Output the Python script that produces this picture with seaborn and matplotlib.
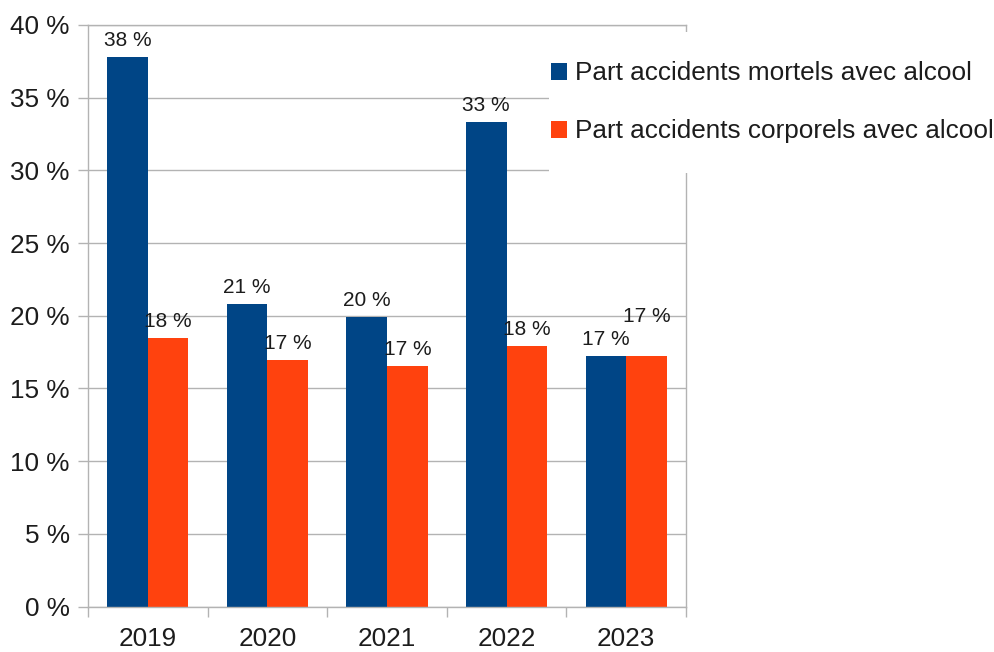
import matplotlib
matplotlib.use("Agg")
import matplotlib.pyplot as plt
from matplotlib.patches import Patch, Rectangle
from matplotlib.ticker import FixedLocator, FuncFormatter
import pandas as pd
import seaborn as sns

# data (percent)
annees = ["2019", "2020", "2021", "2022", "2023"]
mortels = [37.8, 20.8, 19.9, 33.35, 17.2]
corporels = [18.45, 16.93, 16.52, 17.9, 17.2]
series = ["Part accidents mortels avec alcool", "Part accidents corporels avec alcool"]
couleurs = ["#004586", "#ff420e"]

df = pd.DataFrame({
    "annee": annees * 2,
    "part": mortels + corporels,
    "serie": [series[0]] * len(annees) + [series[1]] * len(annees),
})

sns.set_theme(style="white")
plt.rcParams["font.family"] = ["Liberation Sans", "DejaVu Sans"]
txt = "#1c1c1c"
gris = "#b3b3b3"

fig = plt.figure(figsize=(9.95, 6.52), dpi=100)
ax = fig.add_axes([88 / 995, 1 - 606.5 / 652, (686 - 88) / 995, (606.5 - 25) / 652])

sns.barplot(data=df, x="annee", y="part", hue="serie", palette=couleurs,
            width=0.68, saturation=1, linewidth=0, legend=False, ax=ax)

ax.set_ylim(0, 40)
ax.set_xlim(-0.5, len(annees) - 0.5)
ax.set_yticks(range(0, 41, 5))
ax.yaxis.set_major_formatter(FuncFormatter(lambda v, p: f"{v:.0f} %"))
ax.yaxis.grid(True, color=gris, linewidth=1.0)
ax.set_axisbelow(True)
ax.set_xlabel("")
ax.set_ylabel("")
for s in ax.spines.values():
    s.set_color(gris)
    s.set_linewidth(1.0)
    s.set_visible(True)

ax.tick_params(axis="y", length=7.2, width=1.0, color=gris, pad=6,
               labelsize=18.8, labelcolor=txt, left=True)
ax.tick_params(axis="x", which="major", length=0, pad=15, labelsize=18.8, labelcolor=txt)
ax.xaxis.set_minor_locator(FixedLocator([i - 0.5 for i in range(len(annees) + 1)]))
ax.tick_params(axis="x", which="minor", length=7.2, width=1.0, color=gris, bottom=True)

# data labels above bars
for k, cont in enumerate(ax.containers):
    for i, bar in enumerate(cont):
        v = bar.get_height()
        off = 12
        if k == 1 and abs(corporels[i] - mortels[i]) < 1:
            off = 28.5
        ax.annotate(f"{v:.0f} %", (bar.get_x() + bar.get_width() / 2, v),
                    xytext=(0, off), textcoords="offset points",
                    ha="center", va="center", fontsize=15, color=txt)

# white area behind the legend
fig.add_artist(Rectangle((549.3 / 995, 1 - 173.3 / 652), (995 - 549.3) / 995,
                         (173.3 - 31.7) / 652, transform=fig.transFigure,
                         facecolor="white", edgecolor="none", zorder=3))

handles = [Patch(facecolor=c, edgecolor="none") for c in couleurs]
leg = fig.legend(handles, series, loc="center left",
                 bbox_to_anchor=(550.7 / 995, 1 - 102.3 / 652),
                 frameon=False, borderpad=0, borderaxespad=0,
                 handlelength=0.62, handleheight=0.62, handletextpad=0.32,
                 labelspacing=1.3, fontsize=18.8, labelcolor=txt)
leg.set_zorder(5)

fig.savefig("out.png", dpi=100)
